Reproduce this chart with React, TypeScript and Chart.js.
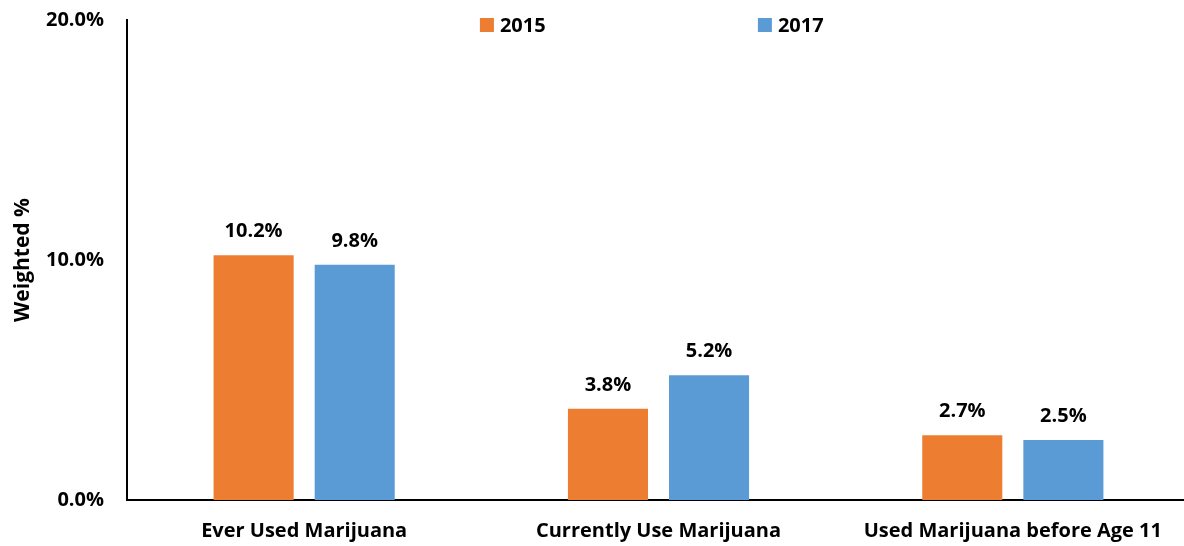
import React, { useEffect, useRef } from "react";
import { Chart, registerables } from "chart.js";

Chart.register(...registerables);

const categories = ["Ever Used Marijuana", "Currently Use Marijuana", "Used Marijuana before Age 11"];
const seriesNames = ["2015", "2017"];
const values2015 = [10.2, 3.8, 2.7];
const values2017 = [9.8, 5.2, 2.5];
const colors = ["#ED7D31", "#5B9BD5"];
const yTicks = [0, 10, 20];

const FONT = "'Open Sans', 'Liberation Sans', sans-serif";
const SIZE = 20;

const labelPlugin = {
  id: "valueLabels",
  afterDatasetsDraw(chart: any) {
    const ctx = chart.ctx;
    ctx.save();
    ctx.font = `bold ${SIZE}px ${FONT}`;
    ctx.fillStyle = "#000";
    ctx.textAlign = "center";
    ctx.textBaseline = "alphabetic";
    chart.data.datasets.forEach((ds: any, i: number) => {
      const meta = chart.getDatasetMeta(i);
      meta.data.forEach((bar: any, j: number) => {
        ctx.fillText(ds.data[j].toFixed(1) + "%", bar.x, bar.y - 18);
      });
    });
    ctx.restore();
  },
};

const legendPlugin = {
  id: "customLegend",
  afterDraw(chart: any) {
    const ctx = chart.ctx;
    const area = chart.chartArea;
    const w = area.right - area.left;
    const starts = [area.left + w * 0.332, area.left + w * 0.5935];
    ctx.save();
    ctx.font = `bold ${SIZE}px ${FONT}`;
    ctx.textBaseline = "middle";
    ctx.textAlign = "left";
    seriesNames.forEach((name, i) => {
      const x = starts[i];
      ctx.fillStyle = colors[i];
      ctx.fillRect(x, 18, 14, 14);
      ctx.fillStyle = "#000";
      ctx.fillText(name, x + 20, 26);
    });
    ctx.restore();
  },
};

export default function App() {
  const ref = useRef<HTMLCanvasElement>(null);
  useEffect(() => {
    if (!ref.current) return;
    const font = { family: FONT, size: SIZE, weight: "bold" as const };
    const chart = new Chart(ref.current, {
      type: "bar",
      data: {
        labels: categories,
        datasets: [
          { label: seriesNames[0], data: values2015, backgroundColor: colors[0], barPercentage: 0.792, categoryPercentage: 0.5706 },
          { label: seriesNames[1], data: values2017, backgroundColor: colors[1], barPercentage: 0.792, categoryPercentage: 0.5706 },
        ],
      },
      options: {
        animation: false,
        responsive: false,
        layout: { padding: { top: 20, right: 0, left: 0, bottom: 0 } },
        plugins: { legend: { display: false }, tooltip: { enabled: false } },
        scales: {
          x: {
            grid: { display: false, drawTicks: false },
            border: { display: true, color: "#000", width: 2 },
            ticks: { color: "#000", font, padding: 19, maxRotation: 0 },
            afterFit: (s: any) => { s.height = 46; s.paddingLeft = 0; s.paddingRight = 0; },
          },
          y: {
            min: 0,
            max: 20,
            afterBuildTicks: (s: any) => { s.ticks = yTicks.map((v) => ({ value: v })); },
            grid: { display: false, drawTicks: false },
            border: { display: true, color: "#000", width: 2 },
            ticks: {
              color: "#000",
              font,
              padding: 23,
              callback: (v: any) => Number(v).toFixed(1) + "%",
            },
            title: { display: true, text: "Weighted %", color: "#000", font: { ...font, size: 21 }, padding: { top: 10, bottom: 0 } },
            afterFit: (s: any) => { s.width = 127; s.paddingTop = 0; s.paddingBottom = 0; },
          },
        },
      },
      plugins: [labelPlugin, legendPlugin],
    });
    return () => chart.destroy();
  }, []);
  return (
    <div style={{ position: "absolute", left: 0, top: 0, width: 1184, height: 546, overflow: "hidden", background: "#fff" }}>
      <canvas ref={ref} width={1190} height={546} style={{ display: "block" }} />
    </div>
  );
}
